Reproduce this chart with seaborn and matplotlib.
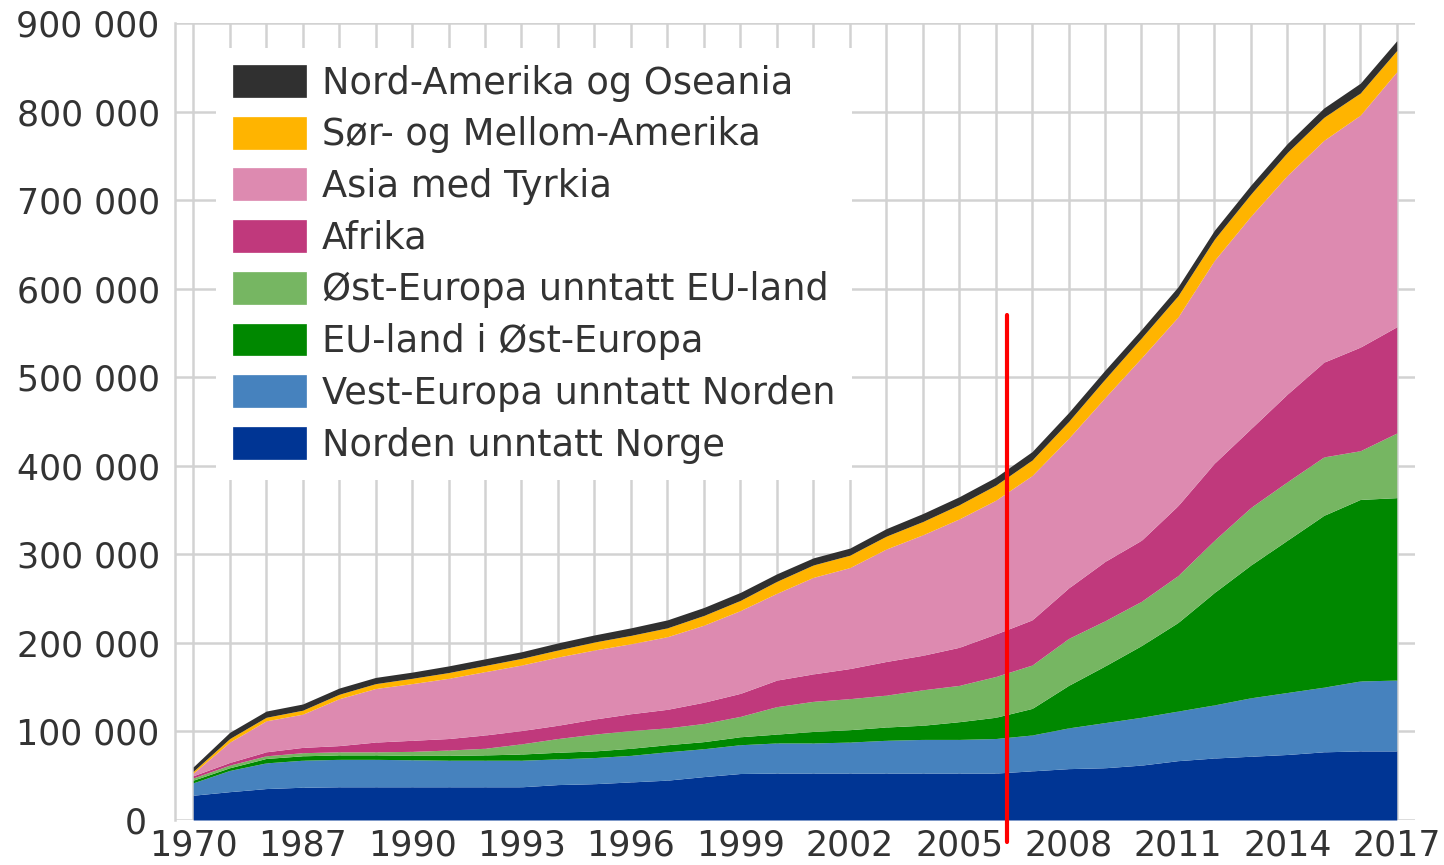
import matplotlib
matplotlib.use('Agg')
import numpy as np
import pandas as pd
import matplotlib.pyplot as plt
import matplotlib.patches as patches
import matplotlib.ticker as mticker
import matplotlib.transforms as mtransforms
import seaborn as sns

# innvandrere og norskfødte med innvandrerforeldre, etter landbakgrunn (1000 personer)
years=['1970','1980','1986','1987','1988','1989','1990','1991','1992','1993','1994','1995',
       '1996','1997','1998','1999','2000','2001','2002','2003','2004','2005','2006','2007',
       '2008','2009','2010','2011','2012','2013','2014','2015','2016','2017']

norden=[28,32,35.5,37,37.5,37.5,37.5,37.5,37.5,37.5,40,41,43,45,49,52.5,53,53,53,53,53,53,53,
        55.5,58,59,62,67,70,72,74,77,78,78]
vest=[14,24,29,30.5,31,31,30.5,30,30,30,29,29.5,30,32,31.5,32.5,34,34,35,37,38,38,39,
      40.5,46,51,54,56,60,66,70,73,79,80]
eu_ost=[3,3,5,5,5,5,5,5.5,6,7,7.5,7.5,8,8,8,9,10,13,14,15,16,20,24,
        30,48,64,81,100,127,150,172,194,205,206]
ost=[2.5,3,3,3.5,3.5,3.5,4.5,6,7.5,11.5,15.5,19,20,19,20.5,23,31,34,35,36,40,41,46,
     49,53,51,50,53,59,65,66,66,55,73]
afrika=[2.5,3,4.5,6,7,11,12.5,13,15,15,15,17,19,21,24,26,30,31,34,38,39,43,48,
        51,57,67,69,79,87,89,99,107,117,120]
asia=[3,23,35,37.5,53,60.5,64,68,71.5,74,77,78,79,82,87,93.5,98,109,114,127,136,145,151,
      163,169,185,206,213,229,240,247,250.5,262,288]
sor=[2,4,4,4.5,5,5.5,6,6.5,7,7.5,8,9,9.5,10,11,11.5,13.5,14,14,14.5,15,16,17,
     17.5,19,21,22.5,24,24,25,26,26,25,24]
nord_am=[5,7,7,7,7,7,7,7.5,7.5,7.5,8,8,8.5,9,9,9,8.5,8,8,8.5,9,9,9,
         9.5,10,10,9.5,10,10,10,10,10.5,11,11]

labels=['Norden unntatt Norge','Vest-Europa unntatt Norden','EU-land i Øst-Europa',
        'Øst-Europa unntatt EU-land','Afrika','Asia med Tyrkia','Sør- og Mellom-Amerika',
        'Nord-Amerika og Oseania']
colors=['#003594','#4682be','#008800','#76b662','#c0397c','#dd8ab0','#ffb400','#303030']

df=pd.DataFrame(np.array([norden,vest,eu_ost,ost,afrika,asia,sor,nord_am]).T*1000,
                index=years,columns=labels)

sns.set_style('white')
plt.rcParams['font.family']=['DejaVu Sans']
txtcol='#333333'
gridcol='#d2d2d2'

fig=plt.figure(figsize=(14.44,8.65),dpi=100)
ax=fig.add_axes([175/1444,1-820/865,(1415-175)/1444,(820-23)/865])

xs=np.arange(len(years))
ax.stackplot(xs,*[df[c].values for c in labels],colors=colors,linewidth=0,zorder=2)

ax.set_xlim(-0.5,len(years)-0.5)
ax.set_ylim(0,900000)
ax.set_xticks(xs)
ax.set_xticklabels([y if i%3==0 else '' for i,y in enumerate(years)])
ax.set_yticks(np.arange(0,900001,100000))
ax.yaxis.set_major_formatter(mticker.FuncFormatter(lambda v,p:'{:,}'.format(int(v)).replace(',',' ')))
ax.set_axisbelow(True)
ax.grid(True,color=gridcol,linewidth=1.8)
ax.tick_params(length=0,labelsize=25,labelcolor=txtcol,labelbottom=True,labelleft=True)
ax.tick_params(axis='y',pad=11)
ax.tick_params(axis='x',pad=6)
sns.despine(ax=ax,left=False,bottom=True,top=True,right=True)
ax.spines['left'].set_color(gridcol)
ax.spines['left'].set_linewidth(1.8)

# "0" litt til venstre så den ikke kolliderer med 1970
zero=ax.yaxis.get_major_ticks()[0].label1
zero.set_transform(zero.get_transform()+mtransforms.ScaledTranslation(-0.13,0,fig.dpi_scale_trans))

# rød strek mellom 2006 og 2007
ax.plot([22.3,22.3],[-25000,570000],color='#ff0000',linewidth=3,zorder=5,clip_on=False)

handles=[patches.Patch(facecolor=c,edgecolor=c,linewidth=0.5) for c in colors][::-1]
leg=ax.legend(handles,labels[::-1],loc='upper left',bbox_to_anchor=(216/1444,1-48/865),
              bbox_transform=fig.transFigure,frameon=True,facecolor='white',edgecolor='none',
              framealpha=1,fancybox=False,borderpad=0.45,borderaxespad=0,handlelength=2.0,
              handleheight=0.95,handletextpad=0.42,labelspacing=0.4,fontsize=26.5)
for t in leg.get_texts():
    t.set_color(txtcol)
leg.set_zorder(10)

plt.savefig('out.png',dpi=100)
plt.close()
